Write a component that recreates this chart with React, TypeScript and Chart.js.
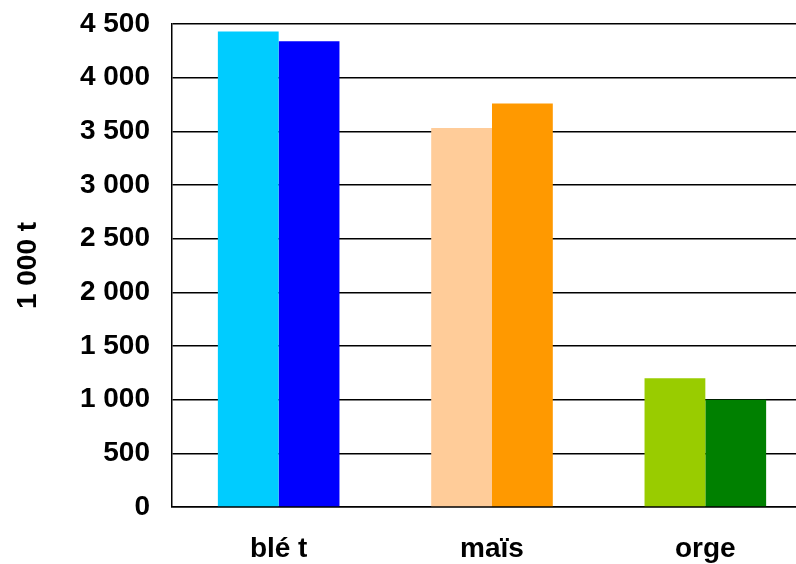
import React, { useEffect, useRef } from "react";
import { Chart, registerables } from "chart.js";

Chart.register(...registerables);

const categories = ["blé t", "maïs", "orge"];
const seriesA = [4430, 3530, 1200];
const seriesB = [4340, 3760, 1000];
const colorsA = ["#00CCFF", "#FFCC99", "#99CC00"];
const colorsB = ["#0000FF", "#FF9900", "#008000"];
const yTitle = "1 000 t";

const fmt = (v: number) => {
  const s = Math.round(v).toString();
  return s.replace(/\B(?=(\d{3})+(?!\d))/g, " ");
};

export default function App() {
  const ref = useRef<HTMLCanvasElement>(null);
  useEffect(() => {
    if (!ref.current) return;
    const font = { family: "'Liberation Sans', Arial, sans-serif", size: 28, weight: "bold" as const };
    const chart = new Chart(ref.current, {
      type: "bar",
      data: {
        labels: categories,
        datasets: [
          { data: seriesA, backgroundColor: colorsA, borderWidth: 0 },
          { data: seriesB, backgroundColor: colorsB, borderWidth: 0 },
        ],
      },
      options: {
        animation: false,
        responsive: false,
        devicePixelRatio: 1,
        layout: { padding: { top: 24, left: 0, right: 0, bottom: 0 } },
        plugins: { legend: { display: false }, tooltip: { enabled: false } },
        datasets: { bar: { categoryPercentage: 0.57, barPercentage: 1.0 } },
        scales: {
          x: {
            grid: { display: false, drawTicks: false },
            border: { display: true, color: "#000", width: 1.5 },
            ticks: { color: "#000", font, padding: 25, maxRotation: 0 },
            afterFit: (s: any) => { s.height = 57; s.paddingLeft = 0; s.paddingRight = 0; },
          },
          y: {
            min: 0,
            max: 4500,
            grid: { color: "#000", lineWidth: 1.5, drawTicks: false },
            border: { display: true, color: "#000", width: 1.5 },
            ticks: { stepSize: 500, color: "#000", font, padding: 22, callback: (v: any) => fmt(Number(v)) },
            title: { display: true, text: yTitle, color: "#000", font, padding: { top: 11, bottom: 0 } },
            afterFit: (s: any) => { s.width = 172; s.paddingTop = 0; s.paddingBottom = 0; },
          },
        },
      },
    });
    return () => chart.destroy();
  }, []);
  return (
    <div style={{ position: "fixed", left: 0, top: 0, width: 796, height: 564, overflow: "hidden", background: "#fff" }}>
      <canvas ref={ref} width={812} height={564} style={{ width: 812, height: 564, display: "block" }} />
    </div>
  );
}
